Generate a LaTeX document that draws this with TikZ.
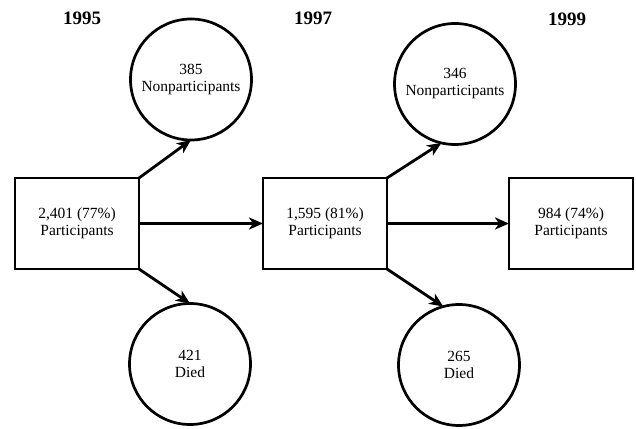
\documentclass[tikz,border=0pt]{standalone}
\usepackage{fontspec}
\setmainfont{Liberation Serif}
\usetikzlibrary{positioning,arrows.meta}

\tikzset{
  stage/.style={draw, line width=2.9pt, minimum width=124pt, minimum height=91pt,
    inner sep=0pt, outer sep=0pt, align=center, font=\fontsize{15.5}{17}\selectfont},
  outcome/.style={draw, circle, line width=2.7pt, minimum size=121pt,
    inner sep=0pt, outer sep=0pt, align=center, font=\fontsize{15.5}{17}\selectfont},
  year/.style={font=\fontsize{19}{21}\selectfont\bfseries},
  flow/.style={line width=2.8pt, -{Stealth[length=14pt,width=12pt,inset=4pt]}},
}

\begin{document}
\begin{tikzpicture}[x=1pt,y=1pt]
  \useasboundingbox (0,0) rectangle (636,428);
  % participants per wave
  \node[stage] (box1) at (77,204.5) {2,401 (77\%)\\Participants};
  \node[stage, right=124pt of box1] (box2) {1,595 (81\%)\\Participants};
  \node[stage, right=122pt of box2] (box3) {984 (74\%)\\Participants};
  % drop-outs
  \node[outcome, above=38pt of box1.north east, xshift=52pt] (np1) {385\\Nonparticipants};
  \node[outcome, below=34.5pt of box1.south east, xshift=51pt] (died1) {421\\Died};
  \node[outcome, above=33.5pt of box2.north east, xshift=68pt] (np2) {346\\Nonparticipants};
  \node[outcome, below=35.5pt of box2.south east, xshift=72pt] (died2) {265\\Died};
  % years
  \node[year] (y95) at (82,410) {1995};
  \node[year] (y97) at (313,410) {1997};
  \node[year] (y99) at (567,409) {1999};
  \draw[flow] (box1.north east) -- (np1.south);
  \draw[flow] (box1.south east) -- (died1.north);
  \draw[flow] (box1) -- (box2);
  \draw[flow] (box2.north east) -- (np2.257);
  \draw[flow] (box2.south east) -- (died2.105);
  \draw[flow] (box2) -- (box3);
\end{tikzpicture}
\end{document}
